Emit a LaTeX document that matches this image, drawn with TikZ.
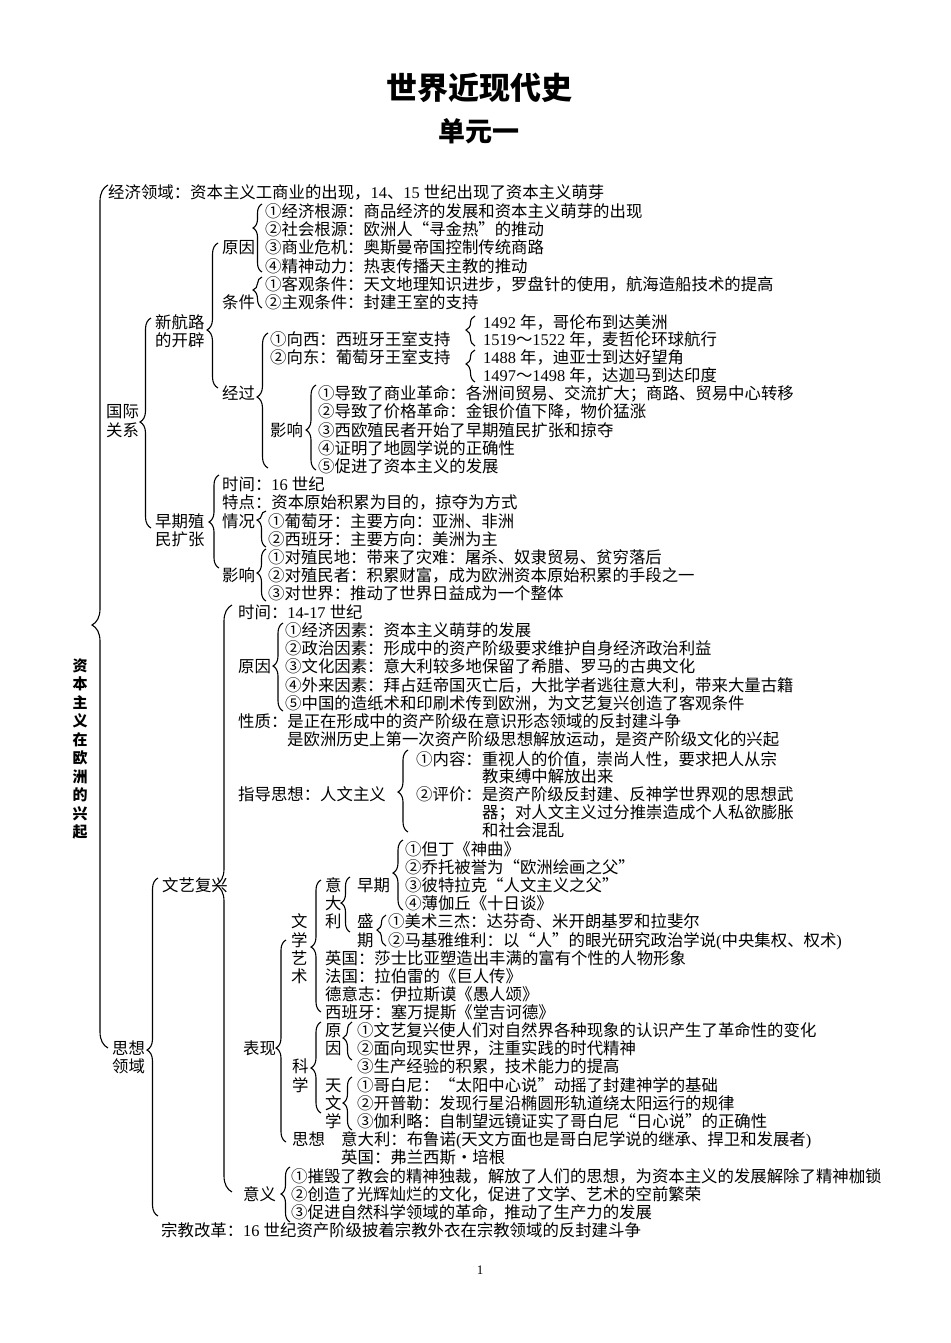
\documentclass[tikz,border=0pt]{standalone}
\usepackage{fontspec}
\setmainfont{Liberation Serif}
\newfontfamily\cjkf{Noto Sans CJK SC}
\usetikzlibrary{decorations.pathreplacing}
\XeTeXinterchartokenstate=1
\newXeTeXintercharclass\CJKc
\makeatletter
\def\cjkrange#1#2{\count@=#1\relax
  \loop\XeTeXcharclass\count@=\CJKc\relax
  \ifnum\count@<#2\relax\advance\count@\@ne\repeat}
\makeatother
\cjkrange{"4E00}{"9FFF}
\cjkrange{"3000}{"303F}
\cjkrange{"FF00}{"FFEF}
\cjkrange{"2460}{"24FF}
\cjkrange{"2018}{"201F}
\XeTeXcharclass"30FB=\CJKc
\XeTeXinterchartoks 0 \CJKc = {\cjkf}
\XeTeXinterchartoks 4095 \CJKc = {\cjkf}
\XeTeXinterchartoks \CJKc 0 = {\rmfamily}
\XeTeXinterchartoks \CJKc 4095 = {\rmfamily}
\tikzset{
  txt/.style={anchor=base west, inner sep=0pt, font=\fontsize{16.4}{18.2}\selectfont},
  brc/.style={decorate, line width=1.1pt, black},
  ttl/.style={anchor=center, inner sep=0pt, font=\bfseries\fontsize{31}{34}\selectfont},
}
\newcommand\T[4]{\node[txt] (#1) at (#2,#3+6) {#4};}
% name, x of ends, ytop, ybottom, ytip, amplitude
\newcommand\Brace[6]{%
  \coordinate (#1t) at (#2,#3);
  \coordinate (#1b) at (#2,#4);
  \pgfmathsetmacro\asp{(#4-#5)/(#4-#3)}%
  \draw[brc, decoration={brace, amplitude=#6pt, aspect=\asp}] (#1b) -- (#1t);}
\begin{document}
\begin{tikzpicture}[x=1pt,y=-1pt]
\fill[white] (0,0) rectangle (950,1343);
\useasboundingbox (0,0) rectangle (950,1343);
% titles
\node[ttl] (title) at (479,88) {世界近现代史};
\node[ttl, font=\bfseries\fontsize{27}{30}\selectfont] (unit) at (479,131) {单元一};
\node[anchor=center, inner sep=0pt, align=center, font=\bfseries\fontsize{15}{18.5}\selectfont] (vt) at (80,749)
  {资\\本\\主\\义\\在\\欧\\洲\\的\\兴\\起};
% economic
\T{t1}{108}{192}{经济领域：资本主义工商业的出现，14、15 世纪出现了资本主义萌芽}
% new sea route
\T{a1}{222}{247}{原因}
\T{a11}{265}{211}{①经济根源：商品经济的发展和资本主义萌芽的出现}
\T{a12}{265}{229}{②社会根源：欧洲人“寻金热”的推动}
\T{a13}{265}{247}{③商业危机：奥斯曼帝国控制传统商路}
\T{a14}{265}{266}{④精神动力：热衷传播天主教的推动}
\T{a2}{222}{302}{条件}
\T{a21}{265}{284}{①客观条件：天文地理知识进步，罗盘针的使用，航海造船技术的提高}
\T{a22}{265}{302}{②主观条件：封建王室的支持}
\T{n1}{155}{322}{新航路}
\T{n2}{155}{340}{的开辟}
\T{a3}{222}{393}{经过}
\T{a31}{270}{339}{①向西：西班牙王室支持}
\T{a32}{270}{357}{②向东：葡萄牙王室支持}
\T{y1}{483}{322}{1492 年，哥伦布到达美洲}
\T{y2}{483}{339}{1519～1522 年，麦哲伦环球航行}
\T{y3}{483}{357}{1488 年，迪亚士到达好望角}
\T{y4}{483}{375}{1497～1498 年，达迦马到达印度}
\T{a4}{270}{430}{影响}
\T{a41}{318}{393}{①导致了商业革命：各洲间贸易、交流扩大；商路、贸易中心转移}
\T{a42}{318}{411}{②导致了价格革命：金银价值下降，物价猛涨}
\T{a43}{318}{430}{③西欧殖民者开始了早期殖民扩张和掠夺}
\T{a44}{318}{448}{④证明了地圆学说的正确性}
\T{a45}{318}{466}{⑤促进了资本主义的发展}
\T{g1}{106}{411}{国际}
\T{g2}{106}{430}{关系}
% colonial
\T{c1}{155}{521}{早期殖}
\T{c2}{155}{539}{民扩张}
\T{c3}{222}{484}{时间：16 世纪}
\T{c4}{222}{502}{特点：资本原始积累为目的，掠夺为方式}
\T{c5}{222}{521}{情况}
\T{c51}{268}{521}{①葡萄牙：主要方向：亚洲、非洲}
\T{c52}{268}{539}{②西班牙：主要方向：美洲为主}
\T{c6}{222}{575}{影响}
\T{c61}{268}{557}{①对殖民地：带来了灾难：屠杀、奴隶贸易、贫穷落后}
\T{c62}{268}{575}{②对殖民者：积累财富，成为欧洲资本原始积累的手段之一}
\T{c63}{268}{593}{③对世界：推动了世界日益成为一个整体}
% renaissance
\T{r0}{238}{612}{时间：14-17 世纪}
\T{r1}{238}{666}{原因}
\T{r11}{285}{630}{①经济因素：资本主义萌芽的发展}
\T{r12}{285}{648}{②政治因素：形成中的资产阶级要求维护自身经济政治利益}
\T{r13}{285}{666}{③文化因素：意大利较多地保留了希腊、罗马的古典文化}
\T{r14}{285}{685}{④外来因素：拜占廷帝国灭亡后，大批学者逃往意大利，带来大量古籍}
\T{r15}{285}{703}{⑤中国的造纸术和印刷术传到欧洲，为文艺复兴创造了客观条件}
\T{r2}{238}{721}{性质：是正在形成中的资产阶级在意识形态领域的反封建斗争}
\T{r3}{287}{739}{是欧洲历史上第一次资产阶级思想解放运动，是资产阶级文化的兴起}
\T{r4}{238}{794}{指导思想：人文主义}
\T{r41}{416}{759}{①内容：重视人的价值，崇尚人性，要求把人从宗}
\T{r42}{482}{776}{教束缚中解放出来}
\T{r43}{416}{794}{②评价：是资产阶级反封建、反神学世界观的思想武}
\T{r44}{482}{812}{器；对人文主义过分推崇造成个人私欲膨胀}
\T{r45}{482}{830}{和社会混乱}
\T{w0}{162}{885}{文艺复兴}
\T{i1}{325}{885}{意}
\T{i2}{325}{903}{大}
\T{i3}{325}{921}{利}
\T{e0}{357}{885}{早期}
\T{e1}{405}{849}{①但丁《神曲》}
\T{e2}{405}{867}{②乔托被誉为“欧洲绘画之父”}
\T{e3}{405}{885}{③彼特拉克“人文主义之父”}
\T{e4}{405}{903}{④薄伽丘《十日谈》}
\T{s1}{357}{921}{盛}
\T{s2}{357}{940}{期}
\T{s11}{388}{921}{①美术三杰：达芬奇、米开朗基罗和拉斐尔}
\T{s12}{388}{940}{②马基雅维利：以“人”的眼光研究政治学说(中央集权、权术)}
\T{l1}{291}{921}{文}
\T{l2}{291}{940}{学}
\T{l3}{291}{958}{艺}
\T{l4}{291}{976}{术}
\T{k1}{325}{958}{英国：莎士比亚塑造出丰满的富有个性的人物形象}
\T{k2}{325}{976}{法国：拉伯雷的《巨人传》}
\T{k3}{325}{994}{德意志：伊拉斯谟《愚人颂》}
\T{k4}{325}{1012}{西班牙：塞万提斯《堂吉诃德》}
\T{p0}{243}{1048}{表现}
\T{h1}{292}{1066}{科}
\T{h2}{292}{1085}{学}
\T{o1}{325}{1030}{原}
\T{o2}{325}{1048}{因}
\T{o11}{357}{1030}{①文艺复兴使人们对自然界各种现象的认识产生了革命性的变化}
\T{o12}{357}{1048}{②面向现实世界，注重实践的时代精神}
\T{o13}{357}{1066}{③生产经验的积累，技术能力的提高}
\T{u1}{325}{1085}{天}
\T{u2}{325}{1103}{文}
\T{u3}{325}{1121}{学}
\T{u11}{357}{1085}{①哥白尼：“太阳中心说”动摇了封建神学的基础}
\T{u12}{357}{1103}{②开普勒：发现行星沿椭圆形轨道绕太阳运行的规律}
\T{u13}{357}{1121}{③伽利略：自制望远镜证实了哥白尼“日心说”的正确性}
\T{q0}{292}{1139}{思想}
\T{q1}{341}{1139}{意大利：布鲁诺(天文方面也是哥白尼学说的继承、捍卫和发展者)}
\T{q2}{341}{1157}{英国：弗兰西斯・培根}
\T{m0}{243}{1194}{意义}
\T{m1}{291}{1176}{①摧毁了教会的精神独裁，解放了人们的思想，为资本主义的发展解除了精神枷锁}
\T{m2}{291}{1194}{②创造了光辉灿烂的文化，促进了文学、艺术的空前繁荣}
\T{m3}{291}{1212}{③促进自然科学领域的革命，推动了生产力的发展}
\T{d1}{112}{1048}{思想}
\T{d2}{112}{1066}{领域}
\T{z1}{161}{1230}{宗教改革：16 世纪资产阶级披着宗教外衣在宗教领域的反封建斗争}
\node[anchor=center, inner sep=0pt, font=\fontsize{13}{15}\selectfont] (pg) at (480,1270) {1};
% braces
\Brace{B0}{108}{185}{1048}{625}{16}
\Brace{B1}{151}{318}{528}{422}{11}
\Brace{B2}{218}{243}{388}{330}{11}
\Brace{B3}{262}{204}{272}{228}{9}
\Brace{B4}{262}{277}{308}{290}{9}
\Brace{B5}{268}{333}{468}{397}{11}
\Brace{B6}{475}{316}{346}{330}{9}
\Brace{B7}{475}{350}{382}{364}{9}
\Brace{B8}{316}{385}{470}{430}{10}
\Brace{B9}{219}{475}{568}{522}{10}
\Brace{B10}{266}{511}{547}{520}{9}
\Brace{B11}{266}{549}{601}{573}{9}
\Brace{B12}{232}{605}{1192}{885}{16}
\Brace{B13}{283}{623}{711}{666}{10}
\Brace{B14}{408}{750}{832}{792}{10}
\Brace{B15}{403}{840}{910}{873}{10}
\Brace{B16}{350}{877}{932}{903}{9}
\Brace{B17}{386}{915}{946}{930}{9}
\Brace{B18}{321}{880}{1012}{947}{10}
\Brace{B19}{286}{940}{1142}{1048}{10}
\Brace{B20}{321}{1022}{1113}{1068}{10}
\Brace{B21}{352}{1022}{1060}{1038}{9}
\Brace{B22}{352}{1077}{1130}{1103}{9}
\Brace{B23}{290}{1167}{1222}{1194}{9}
\Brace{B24}{158}{878}{1216}{1050}{11}
\end{tikzpicture}
\end{document}
